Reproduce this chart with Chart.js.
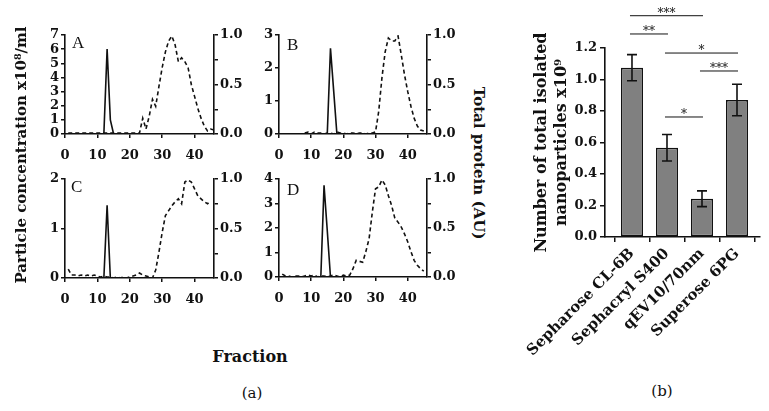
<!DOCTYPE html>
<html>
<head>
<meta charset="utf-8">
<script src="https://cdn.jsdelivr.net/npm/chart.js@4"></script>
<style>
body { margin: 0; background: #fff; }
#fig { position: relative; width: 769px; height: 411px; overflow: hidden; background: #fff; }
canvas { position: absolute; }
.lbl { position: absolute; white-space: nowrap; color: #111; font-family: 'DejaVu Serif', serif; }
.bold { font-weight: bold; }
</style>
</head>
<body>
<div id="fig">
  <canvas id="pA"></canvas>
  <canvas id="pB"></canvas>
  <canvas id="pC"></canvas>
  <canvas id="pD"></canvas>
  <canvas id="bars"></canvas>

  <div class="lbl bold" style="left:-129px;top:145px;width:300px;text-align:center;font-size:15px;line-height:20px;transform:rotate(-90deg);">Particle concentration x10⁸/ml</div>
  <div class="lbl bold" style="left:379px;top:153px;width:200px;text-align:center;font-size:15px;line-height:20px;transform:rotate(90deg);">Total protein (AU)</div>
  <div class="lbl bold" style="left:200px;top:347px;width:100px;text-align:center;font-size:16px;">Fraction</div>
  <div class="lbl" style="left:222px;top:384px;width:60px;text-align:center;font-size:15px;">(a)</div>
  <div class="lbl" style="left:632px;top:382px;width:60px;text-align:center;font-size:15px;">(b)</div>

  <div class="lbl" style="left:72px;top:33px;font-size:17px;font-family:'Liberation Serif',serif;">A</div>
  <div class="lbl" style="left:287px;top:35px;font-size:17px;font-family:'Liberation Serif',serif;">B</div>
  <div class="lbl" style="left:71px;top:177px;font-size:17px;font-family:'Liberation Serif',serif;">C</div>
  <div class="lbl" style="left:287px;top:180px;font-size:17px;font-family:'Liberation Serif',serif;">D</div>
</div>

<script>
// fraction numbers (x axis of the four elution profiles)
var fractions = [1,2,3,4,5,6,7,8,9,10,11,12,13,14,15,16,17,18,19,20,21,22,23,24,25,26,27,28,29,30,31,32,33,34,35,36,37,38,39,40,41,42,43,44,45,46];

// particle concentration x10^8/ml (solid lines)
var particlesA = [0,0,0,0,0,0,0,0,0,0,0,0,6.0,1.0,0,0,0,0,0,0,0,0,0,0,0,0,0,0,0,0,0,0,0,0,0,0,0,0,0,0,0,0,0,0,0,0];
var particlesB = [0,0,0,0,0,0,0,0,0,0,0,0,0,0,0,2.6,1.3,0,0,0,0,0,0,0,0,0,0,0,0,0,0,0,0,0,0,0,0,0,0,0,0,0,0,0,0,0];
var particlesC = [0,0,0,0,0,0,0,0,0,0,0,0,1.47,0,0,0,0,0,0,0,0,0,0,0,0,0,0,0,0,0,0,0,0,0,0,0,0,0,0,0,0,0,0,0,0,0];
var particlesD = [0,0,0,0,0,0,0,0,0,0,0,0,0,3.74,1.9,0,0,0,0,0,0,0,0,0,0,0,0,0,0,0,0,0,0,0,0,0,0,0,0,0,0,0,0,0,0,0];

// total protein, AU (dashed lines)
var proteinA = [0.01,0.01,0.01,0.01,0.01,0.01,0.01,0.01,0.01,0.01,0.01,0.01,0.01,0.01,0.01,0.01,0.01,0.01,0.01,0.01,0.01,0.01,0.01,0.16,0.05,0.18,0.35,0.28,0.48,0.67,0.83,0.94,0.99,0.90,0.73,0.77,0.73,0.67,0.50,0.38,0.26,0.16,0.08,0.03,0.05,0.04];
var proteinB = [null,null,null,null,null,null,null,0.01,0.02,0.0,0.02,0.01,0.01,0.0,0.01,0.01,0.0,0.02,0.01,0.01,0.0,0.01,0.01,0.0,0.01,0.01,0.0,0.01,0.01,0.02,0.23,0.57,0.83,0.97,0.94,0.94,0.99,0.80,0.60,0.43,0.28,0.16,0.08,0.04,0.03,null];
var proteinC = [0.09,0.03,0.03,0.02,0.03,0.02,0.03,0.02,0.03,0.02,0.01,0.02,0.01,0.01,0.0,0.01,0.0,0.01,0.0,0.01,0.02,0.03,0.05,0.03,0.02,0.01,0.0,0.08,0.26,0.46,0.63,0.68,0.73,0.77,0.80,0.75,0.97,0.99,0.97,0.90,0.83,0.80,0.77,0.75,0.78,null];
var proteinD = [0.03,0.01,0.01,0.0,0.01,0.01,0.0,0.01,0.02,0.01,0.02,0.0,0.01,0.01,0.0,0.01,0.02,0.01,0.0,0.02,0.01,0.02,0.085,0.17,0.16,0.15,0.26,0.39,0.66,0.90,0.92,0.99,0.94,0.83,0.73,0.60,0.56,0.51,0.44,0.36,0.26,0.17,0.12,0.085,0.06,null];

// panel (b)
var methods = ['Sepharose CL-6B', 'Sephacryl S400', 'qEV10/70nm', 'Superose 6PG'];
var nanoparticles = [1.075, 0.567, 0.243, 0.87];
var nanoErrors = [0.083, 0.084, 0.05, 0.10];
var sigPairs = [[0, 2], [0, 1], [1, 3], [2, 3], [1, 2]];
var sigLevels = [1.405, 1.289, 1.168, 1.054, 0.762];
var sigMarks = ['***', '**', '*', '***', '*'];

Chart.defaults.font.family = "'DejaVu Serif', serif";
Chart.defaults.font.weight = 'bold';
Chart.defaults.font.size = 13;
Chart.defaults.color = '#111';

function pairs(ys) {
    return fractions.map(function (f, i) { return { x: f, y: ys[i] }; });
}

function axisGrid() {
    return { drawOnChartArea: false, drawTicks: true, tickLength: 4, color: '#111', lineWidth: 1.5 };
}

function profile(id, L, T, R, B, leftMax, parts, prot) {
    var cv = document.getElementById(id);
    cv.width = R - L + 75;
    cv.height = B - T + 44;
    cv.style.left = (L - 35) + 'px';
    cv.style.top = (T - 12) + 'px';
    return new Chart(cv.getContext('2d'), {
        type: 'line',
        data: {
            datasets: [{
                data: pairs(parts),
                yAxisID: 'y',
                borderColor: '#111',
                borderWidth: 1.6,
                pointRadius: 0,
                tension: 0
            }, {
                data: pairs(prot),
                yAxisID: 'y2',
                borderColor: '#111',
                borderWidth: 1.6,
                borderDash: [4, 3],
                pointRadius: 0,
                tension: 0,
                spanGaps: false
            }]
        },
        options: {
            responsive: false,
            animation: false,
            devicePixelRatio: 1,
            layout: { padding: { top: 12, left: 0, right: 0, bottom: 0 } },
            plugins: { legend: { display: false }, tooltip: { enabled: false } },
            scales: {
                x: {
                    type: 'linear', min: 0, max: 46,
                    afterFit: function (s) { s.height = 32; s.paddingLeft = 0; s.paddingRight = 0; },
                    border: { color: '#111', width: 1.6 },
                    grid: axisGrid(),
                    ticks: { stepSize: 10, includeBounds: false, padding: 10, maxRotation: 0, autoSkip: false }
                },
                y: {
                    position: 'left', min: 0, max: leftMax,
                    afterFit: function (s) { s.width = 35; },
                    border: { color: '#111', width: 1.6 },
                    grid: axisGrid(),
                    ticks: { stepSize: 1, padding: 2, autoSkip: false }
                },
                y2: {
                    position: 'right', min: 0, max: 1,
                    afterFit: function (s) { s.width = 40; },
                    border: { color: '#111', width: 1.6 },
                    grid: axisGrid(),
                    ticks: {
                        stepSize: 0.25, padding: 2, autoSkip: false,
                        callback: function (v) { return (Math.abs(v * 2 - Math.round(v * 2)) < 1e-6) ? v.toFixed(1) : ''; }
                    }
                }
            }
        }
    });
}

profile('pA', 65, 35, 214, 134, 7, particlesA, proteinA);
profile('pB', 279, 35, 427, 134, 3, particlesB, proteinB);
profile('pC', 65, 179, 214, 278, 2, particlesC, proteinC);
profile('pD', 279, 179, 427, 277, 4, particlesD, proteinD);

// error bars and significance brackets for panel (b)
var extras = {
    id: 'extras',
    afterDatasetsDraw: function (chart) {
        var ctx = chart.ctx, xs = chart.scales.x, ys = chart.scales.y;
        ctx.save();
        ctx.strokeStyle = '#111';
        ctx.lineWidth = 1.6;
        nanoparticles.forEach(function (m, i) {
            var x = xs.getPixelForValue(i);
            var yt = ys.getPixelForValue(m + nanoErrors[i]);
            var yb = ys.getPixelForValue(m - nanoErrors[i]);
            ctx.beginPath();
            ctx.moveTo(x, yt); ctx.lineTo(x, yb);
            ctx.moveTo(x - 5, yt); ctx.lineTo(x + 5, yt);
            ctx.moveTo(x - 5, yb); ctx.lineTo(x + 5, yb);
            ctx.stroke();
        });
        ctx.lineWidth = 1;
        ctx.fillStyle = '#111';
        ctx.font = "12px 'DejaVu Serif'";
        ctx.textAlign = 'center';
        ctx.textBaseline = 'alphabetic';
        sigPairs.forEach(function (p, k) {
            var x1 = xs.getPixelForValue(p[0]) - 2;
            var x2 = xs.getPixelForValue(p[1]) + 1;
            var y = ys.getPixelForValue(sigLevels[k]);
            ctx.beginPath();
            ctx.moveTo(x1, y); ctx.lineTo(x2, y);
            ctx.stroke();
            ctx.fillText(sigMarks[k], (x1 + x2) / 2, y + 1);
        });
        ctx.restore();
    }
};

var bc = document.getElementById('bars');
bc.width = 244;
bc.height = 380;
bc.style.left = '525px';
bc.style.top = '0px';
new Chart(bc.getContext('2d'), {
    type: 'bar',
    data: {
        datasets: [{
            data: methods.map(function (m, i) { return { x: i, y: nanoparticles[i] }; }),
            backgroundColor: '#808080',
            borderColor: '#111',
            borderWidth: 1.5,
            borderSkipped: false,
            barPercentage: 0.63,
            categoryPercentage: 1
        }]
    },
    options: {
        responsive: false,
        animation: false,
        devicePixelRatio: 1,
        layout: { padding: { top: 48, left: 0, right: 9, bottom: 0 } },
        plugins: { legend: { display: false }, tooltip: { enabled: false } },
        scales: {
            x: {
                type: 'linear', min: -0.771, max: 3.657, offset: false,
                afterFit: function (s) { s.height = 143; s.paddingLeft = 0; s.paddingRight = 0; },
                border: { color: '#111', width: 1.6 },
                grid: { drawOnChartArea: false, drawTicks: true, tickLength: 5, color: '#111', lineWidth: 1.5 },
                ticks: {
                    stepSize: 1, includeBounds: false, autoSkip: false,
                    minRotation: 45, maxRotation: 45, padding: 3,
                    font: { size: 15, weight: 'bold' },
                    callback: function (v) { return methods[v]; }
                }
            },
            y: {
                min: 0, max: 1.2,
                afterFit: function (s) { s.width = 80; },
                border: { color: '#111', width: 1.6 },
                grid: { drawOnChartArea: false, drawTicks: true, tickLength: 5, color: '#111', lineWidth: 1.5 },
                ticks: { stepSize: 0.2, padding: 3, autoSkip: false, callback: function (v) { return v.toFixed(1); } },
                title: {
                    display: true,
                    text: ['Number of total isolated', 'nanoparticles x10⁹'],
                    font: { size: 16, weight: 'bold', lineHeight: '20px' },
                    padding: { top: 7, bottom: 0 },
                    color: '#111'
                }
            }
        }
    },
    plugins: [extras]
});
</script>
</body>
</html>
